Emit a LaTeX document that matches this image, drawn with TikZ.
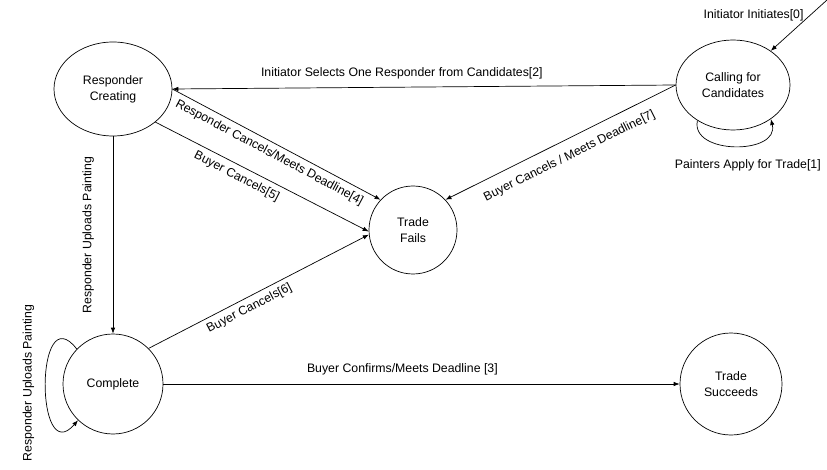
\documentclass[tikz,border=0pt]{standalone}
\usepackage{fontspec}
\setmainfont{Liberation Sans}
\usetikzlibrary{arrows.meta,shapes.geometric}
\begin{document}
\begin{tikzpicture}[x=1pt,y=-1pt,
  font=\fontsize{12.3}{16}\selectfont,
  line width=0.7pt,
  stateell/.style={draw, ellipse, inner sep=0pt, align=center},
  statecirc/.style={draw, circle, inner sep=0pt, align=center},
  arr/.style={-{Latex[length=6pt,width=4.5pt]}}]
\useasboundingbox (0,0) rectangle (827,470);

\node[stateell, minimum width=118pt, minimum height=94pt] (rc) at (113,89) {Responder\\Creating};
\node[stateell, minimum width=114pt, minimum height=90pt] (cc) at (733,85) {Calling for\\Candidates};
\node[statecirc, minimum size=88pt] (tf) at (413,230) {Trade\\Fails};
\node[statecirc, minimum size=100pt] (co) at (113,384) {Complete};
\node[statecirc, minimum size=102pt] (ts) at (731,384) {Trade\\Succeeds};
\coordinate (start) at (827,0);

% [0]
\draw[arr] (start) -- node[pos=0.3, left=3pt] {Initiator Initiates[0]} (cc);
% [1]
\draw[arr] (cc.225) .. controls (690,155) and (780,155) .. node[pos=0.5, below=10pt, xshift=13pt] {Painters Apply for Trade[1]} (cc.318);
% [2]
\draw[arr] (cc.west) -- node[pos=0.544, above=4.4pt] {Initiator Selects One Responder from Candidates[2]} (rc.east);
% [7]
\draw[arr] (cc.west) -- node[pos=0.493, sloped, below=7pt] {Buyer Cancels / Meets Deadline[7]} (tf.43);
% [4]
\draw[arr] (rc.east) -- node[pos=0.49, sloped, below=1.4pt] {Responder Cancels/Meets Deadline[4]} (tf.137);
% [5]
\draw[arr] (rc.-38) -- node[pos=0.405, sloped, below=1.9pt] {Buyer Cancels[5]} (tf.182);
% [6]
\draw[arr] (co.45) -- node[pos=0.435, sloped, below=1.4pt] {Buyer Cancels[6]} (tf.186);
% uploads
\draw[arr] (rc.south) -- node[midway, rotate=90, anchor=south, inner ysep=18.7pt] {Responder Uploads Painting} (co.north);
% self loop on complete
\draw[arr] (co.136) .. controls (35,295) and (35,470) .. node[pos=0.5, rotate=90, anchor=south, inner ysep=11pt] {Responder Uploads Painting} (co.226);
% [3]
\draw[arr] (co.east) -- node[pos=0.463, above=4.9pt] {Buyer Confirms/Meets Deadline [3]} (ts.west);
\end{tikzpicture}
\end{document}
